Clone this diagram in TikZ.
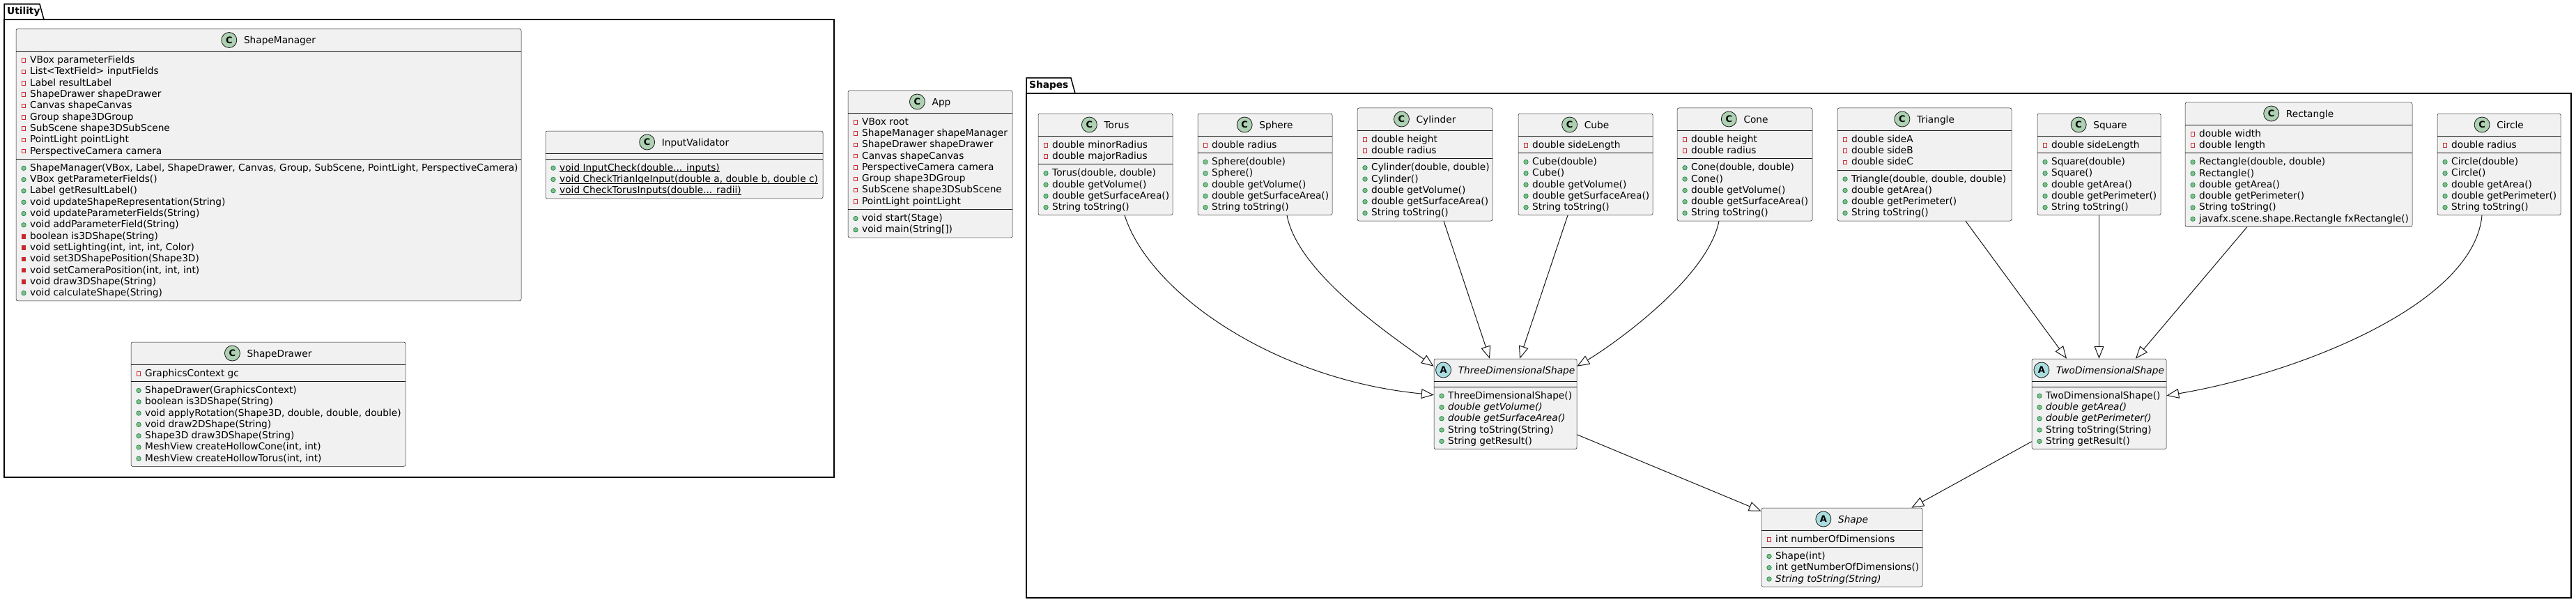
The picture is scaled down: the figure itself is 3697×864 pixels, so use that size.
\documentclass[tikz,border=0pt]{standalone}
\usepackage{fontspec}
\setmainfont{DejaVu Sans}
\usetikzlibrary{arrows.meta,calc}
\definecolor{umlborder}{HTML}{181818}
\definecolor{umlfill}{HTML}{F1F1F1}
\definecolor{spotCfill}{HTML}{ADD1B2}
\definecolor{spotAfill}{HTML}{A9DCDF}
\definecolor{privred}{HTML}{C82930}
\definecolor{pubfill}{HTML}{84BE84}
\definecolor{pubdraw}{HTML}{038048}
\newcounter{umlrowno}
\newcommand\umlRowY{0}
\newcommand\umlSa{0}
\newcommand\umlSb{0}
\newcommand\umlLeft{0}
\newcommand\umlul[1]{\leavevmode\setbox0\hbox{#1}\rlap{\rule[-2pt]{\wd0}{0.8pt}}\box0}
\tikzset{
 classbox/.style={draw=umlborder, line width=0.5pt, fill=umlfill, rounded corners=2.5pt, inner sep=0pt},
 sepline/.style={draw=umlborder, line width=0.5pt},
 member/.style={anchor=base west, inner sep=0pt, font=\fontsize{13.7}{16}\selectfont},
 ctitle/.style={anchor=base, inner sep=0pt, font=\fontsize{13.7}{16}\selectfont},
 spotC/.style={circle, draw=umlborder, line width=0.8pt, fill=spotCfill, minimum size=22pt, inner sep=0pt, font=\fontsize{13}{13}\selectfont\bfseries},
 spotA/.style={circle, draw=umlborder, line width=0.8pt, fill=spotAfill, minimum size=22pt, inner sep=0pt, font=\fontsize{13}{13}\selectfont\bfseries},
 privf/.style={rectangle, draw=privred, line width=0.8pt, minimum size=5.5pt, inner sep=0pt},
 privm/.style={privf, fill=privred},
 pubm/.style={circle, draw=pubdraw, line width=0.6pt, fill=pubfill, minimum size=6.5pt, inner sep=0pt},
 ext/.style={draw=umlborder, line width=1pt, -{Triangle[open, length=18pt, width=14pt]}},
 pkg/.style={draw=black, line width=1.5pt},
 pkglabel/.style={anchor=base west, inner sep=0pt, font=\fontsize{13.7}{16}\selectfont\bfseries},
}
% id, x1, y1, x2, n attrs, n methods, spot letter, title
\newcommand\umlclass[8]{%
 \pgfmathsetmacro\umlA{#3+32}%
 \pgfmathsetmacro\umlB{\umlA+((#5>0)?(16.3*#5+8):8)}%
 \pgfmathsetmacro\umlC{\umlB+((#6>0)?(16.3*#6+8):8)}%
 \pgfmathsetmacro\umlW{#4-#2}%
 \pgfmathsetmacro\umlH{\umlC-#3}%
 \pgfmathsetmacro\umlX{(#2+#4)/2}%
 \pgfmathsetmacro\umlY{(#3+\umlC)/2}%
 \node[classbox, minimum width=\umlW pt, minimum height=\umlH pt] (#1) at (\umlX,\umlY) {};
 \draw[sepline] (#2,\umlA) -- (#4,\umlA);
 \draw[sepline] (#2,\umlB) -- (#4,\umlB);
 \node[ctitle] (#1-t) at (\umlX+16,#3+21) {#8};
 \node[spot#7] (#1-c) at ($(#1-t.base west)+(-21,-5)$) {#7};
 \xdef\umlSa{\umlA}\xdef\umlSb{\umlB}\xdef\umlLeft{#2}%
}
\newcommand\umlattrs{\pgfmathsetmacro\umlT{\umlSa+12.15}\xdef\umlRowY{\umlT}}
\newcommand\umlmeths{\pgfmathsetmacro\umlT{\umlSb+12.15}\xdef\umlRowY{\umlT}}
\newcommand\umlrow[2]{%
 \stepcounter{umlrowno}%
 \node[#1] (icon\arabic{umlrowno}) at (\umlLeft+11,\umlRowY+1) {};
 \node[member] (text\arabic{umlrowno}) at (\umlLeft+20,\umlRowY+5) {#2};
 \pgfmathsetmacro\umlT{\umlRowY+16.3}\xdef\umlRowY{\umlT}%
}
\begin{document}
\begin{tikzpicture}[x=1pt, y=-1pt]
\useasboundingbox (0,0) rectangle (3697,864);
% packages
\draw[pkg] (6,28) -- (6,6) -- (57,6) -- (63,28);
\draw[pkg] (6,28) rectangle (1197,685);
\node[pkglabel] (pkgUtility) at (10,21) {Utility};
\draw[pkg] (1473,134) -- (1473,112) -- (1537,112) -- (1543,134);
\draw[pkg] (1473,134) rectangle (3690,858);
\node[pkglabel] (pkgShapes) at (1477,127) {Shapes};

% ShapeManager
\umlclass{cShapeManager}{23}{41.5}{748}{9}{12}{C}{ShapeManager}
\umlattrs
\umlrow{privf}{VBox parameterFields}
\umlrow{privf}{List<TextField> inputFields}
\umlrow{privf}{Label resultLabel}
\umlrow{privf}{ShapeDrawer shapeDrawer}
\umlrow{privf}{Canvas shapeCanvas}
\umlrow{privf}{Group shape3DGroup}
\umlrow{privf}{SubScene shape3DSubScene}
\umlrow{privf}{PointLight pointLight}
\umlrow{privf}{PerspectiveCamera camera}
\umlmeths
\umlrow{pubm}{ShapeManager(VBox, Label, ShapeDrawer, Canvas, Group, SubScene, PointLight, PerspectiveCamera)}
\umlrow{pubm}{VBox getParameterFields()}
\umlrow{pubm}{Label getResultLabel()}
\umlrow{pubm}{void updateShapeRepresentation(String)}
\umlrow{pubm}{void updateParameterFields(String)}
\umlrow{pubm}{void addParameterField(String)}
\umlrow{privm}{boolean is3DShape(String)}
\umlrow{privm}{void setLighting(int, int, int, Color)}
\umlrow{privm}{void set3DShapePosition(Shape3D)}
\umlrow{privm}{void setCameraPosition(int, int, int)}
\umlrow{privm}{void draw3DShape(String)}
\umlrow{pubm}{void calculateShape(String)}

% InputValidator
\umlclass{cInputValidator}{783}{188}{1181}{0}{3}{C}{InputValidator}
\umlmeths
\umlrow{pubm}{\umlul{void InputCheck(double... inputs)}}
\umlrow{pubm}{\umlul{void CheckTrianlgeInput(double a, double b, double c)}}
\umlrow{pubm}{\umlul{void CheckTorusInputs(double... radii)}}

% ShapeDrawer
\umlclass{cShapeDrawer}{188}{491}{582}{1}{7}{C}{ShapeDrawer}
\umlattrs
\umlrow{privf}{GraphicsContext gc}
\umlmeths
\umlrow{pubm}{ShapeDrawer(GraphicsContext)}
\umlrow{pubm}{boolean is3DShape(String)}
\umlrow{pubm}{void applyRotation(Shape3D, double, double, double)}
\umlrow{pubm}{void draw2DShape(String)}
\umlrow{pubm}{Shape3D draw3DShape(String)}
\umlrow{pubm}{MeshView createHollowCone(int, int)}
\umlrow{pubm}{MeshView createHollowTorus(int, int)}

% App
\umlclass{cApp}{1217}{130}{1453}{8}{2}{C}{App}
\umlattrs
\umlrow{privf}{VBox root}
\umlrow{privf}{ShapeManager shapeManager}
\umlrow{privf}{ShapeDrawer shapeDrawer}
\umlrow{privf}{Canvas shapeCanvas}
\umlrow{privf}{PerspectiveCamera camera}
\umlrow{privf}{Group shape3DGroup}
\umlrow{privf}{SubScene shape3DSubScene}
\umlrow{privf}{PointLight pointLight}
\umlmeths
\umlrow{pubm}{void start(Stage)}
\umlrow{pubm}{void main(String[])}

% Torus
\umlclass{cTorus}{1490}{163}{1683}{2}{4}{C}{Torus}
\umlattrs
\umlrow{privf}{double minorRadius}
\umlrow{privf}{double majorRadius}
\umlmeths
\umlrow{pubm}{Torus(double, double)}
\umlrow{pubm}{double getVolume()}
\umlrow{pubm}{double getSurfaceArea()}
\umlrow{pubm}{String toString()}

% Sphere
\umlclass{cSphere}{1719}{163}{1912}{1}{5}{C}{Sphere}
\umlattrs
\umlrow{privf}{double radius}
\umlmeths
\umlrow{pubm}{Sphere(double)}
\umlrow{pubm}{Sphere()}
\umlrow{pubm}{double getVolume()}
\umlrow{pubm}{double getSurfaceArea()}
\umlrow{pubm}{String toString()}

% Cylinder
\umlclass{cCylinder}{1948}{155}{2142}{2}{5}{C}{Cylinder}
\umlattrs
\umlrow{privf}{double height}
\umlrow{privf}{double radius}
\umlmeths
\umlrow{pubm}{Cylinder(double, double)}
\umlrow{pubm}{Cylinder()}
\umlrow{pubm}{double getVolume()}
\umlrow{pubm}{double getSurfaceArea()}
\umlrow{pubm}{String toString()}

% Cube
\umlclass{cCube}{2179}{163}{2372}{1}{5}{C}{Cube}
\umlattrs
\umlrow{privf}{double sideLength}
\umlmeths
\umlrow{pubm}{Cube(double)}
\umlrow{pubm}{Cube()}
\umlrow{pubm}{double getVolume()}
\umlrow{pubm}{double getSurfaceArea()}
\umlrow{pubm}{String toString()}

% Cone
\umlclass{cCone}{2407}{155}{2601}{2}{5}{C}{Cone}
\umlattrs
\umlrow{privf}{double height}
\umlrow{privf}{double radius}
\umlmeths
\umlrow{pubm}{Cone(double, double)}
\umlrow{pubm}{Cone()}
\umlrow{pubm}{double getVolume()}
\umlrow{pubm}{double getSurfaceArea()}
\umlrow{pubm}{String toString()}

% Triangle
\umlclass{cTriangle}{2637}{155}{2887}{3}{4}{C}{Triangle}
\umlattrs
\umlrow{privf}{double sideA}
\umlrow{privf}{double sideB}
\umlrow{privf}{double sideC}
\umlmeths
\umlrow{pubm}{Triangle(double, double, double)}
\umlrow{pubm}{double getArea()}
\umlrow{pubm}{double getPerimeter()}
\umlrow{pubm}{String toString()}

% Square
\umlclass{cSquare}{2924}{163}{3101}{1}{5}{C}{Square}
\umlattrs
\umlrow{privf}{double sideLength}
\umlmeths
\umlrow{pubm}{Square(double)}
\umlrow{pubm}{Square()}
\umlrow{pubm}{double getArea()}
\umlrow{pubm}{double getPerimeter()}
\umlrow{pubm}{String toString()}

% Rectangle
\umlclass{cRectangle}{3136}{147}{3462}{2}{6}{C}{Rectangle}
\umlattrs
\umlrow{privf}{double width}
\umlrow{privf}{double length}
\umlmeths
\umlrow{pubm}{Rectangle(double, double)}
\umlrow{pubm}{Rectangle()}
\umlrow{pubm}{double getArea()}
\umlrow{pubm}{double getPerimeter()}
\umlrow{pubm}{String toString()}
\umlrow{pubm}{javafx.scene.shape.Rectangle fxRectangle()}

% Circle
\umlclass{cCircle}{3498}{163}{3675}{1}{5}{C}{Circle}
\umlattrs
\umlrow{privf}{double radius}
\umlmeths
\umlrow{pubm}{Circle(double)}
\umlrow{pubm}{Circle()}
\umlrow{pubm}{double getArea()}
\umlrow{pubm}{double getPerimeter()}
\umlrow{pubm}{String toString()}

% ThreeDimensionalShape
\umlclass{cThree}{2058}{515}{2263}{0}{5}{A}{\itshape ThreeDimensionalShape}
\umlmeths
\umlrow{pubm}{ThreeDimensionalShape()}
\umlrow{pubm}{\itshape double getVolume()}
\umlrow{pubm}{\itshape double getSurfaceArea()}
\umlrow{pubm}{String toString(String)}
\umlrow{pubm}{String getResult()}

% TwoDimensionalShape
\umlclass{cTwo}{2916}{515}{3109}{0}{5}{A}{\itshape TwoDimensionalShape}
\umlmeths
\umlrow{pubm}{TwoDimensionalShape()}
\umlrow{pubm}{\itshape double getArea()}
\umlrow{pubm}{\itshape double getPerimeter()}
\umlrow{pubm}{String toString(String)}
\umlrow{pubm}{String getResult()}

% Shape
\umlclass{cShape}{2528}{729}{2759}{1}{3}{A}{\itshape Shape}
\umlattrs
\umlrow{privf}{int numberOfDimensions}
\umlmeths
\umlrow{pubm}{Shape(int)}
\umlrow{pubm}{int getNumberOfDimensions()}
\umlrow{pubm}{\itshape String toString(String)}

% generalisations
\draw[ext] ([xshift=27.5pt]cTorus.south) .. controls +(36,112) and +(-228,-22) .. ([yshift=-52pt]cThree.north west);
\draw[ext] ([xshift=31.5pt]cSphere.south) .. controls +(15,80) and +(-70,-50) .. ([yshift=-11pt]cThree.north west);
\draw[ext] ([xshift=27pt]cCylinder.south) -- ([xshift=-22.5pt]cThree.north);
\draw[ext] ([xshift=-25.5pt]cCube.south) -- ([xshift=20.5pt]cThree.north);
\draw[ext] ([xshift=-37pt]cCone.south) .. controls +(-17,83) and +(50,-30) .. ([yshift=-11pt]cThree.north east);
\draw[ext] ([xshift=59pt]cTriangle.south) -- ([xshift=-46.5pt]cTwo.north);
\draw[ext] (cSquare.south) -- (cTwo.north);
\draw[ext] ([xshift=-74pt]cRectangle.south) -- ([xshift=52.5pt]cTwo.north);
\draw[ext] ([xshift=-24.5pt]cCircle.south) .. controls +(-12,131) and +(180,-30) .. ([yshift=-53pt]cTwo.north east);
\draw[ext] ([yshift=-109pt]cThree.north east) -- ([yshift=-5pt]cShape.north west);
\draw[ext] ([yshift=-119pt]cTwo.north west) -- ([xshift=-16pt]cShape.north east);
\end{tikzpicture}
\end{document}
